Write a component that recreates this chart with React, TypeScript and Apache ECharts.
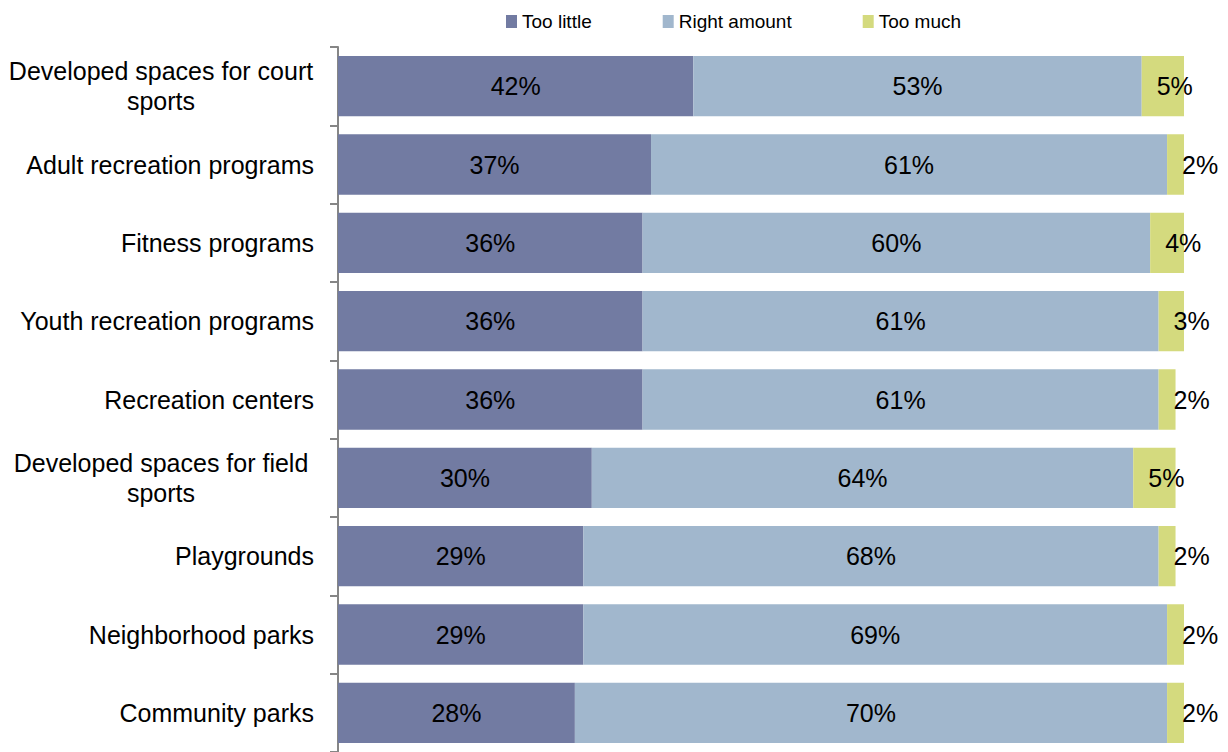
import React, { useEffect, useRef } from "react";
import * as echarts from "echarts";

const categories = [
  "Developed spaces for court sports",
  "Adult recreation programs",
  "Fitness programs",
  "Youth recreation programs",
  "Recreation centers",
  "Developed spaces for field sports",
  "Playgrounds",
  "Neighborhood parks",
  "Community parks",
];

const tooLittle = [42, 37, 36, 36, 36, 30, 29, 29, 28];
const rightAmount = [53, 61, 60, 61, 61, 64, 68, 69, 70];
const tooMuch = [5, 2, 4, 3, 2, 5, 2, 2, 2];

const seriesNames = ["Too little", "Right amount", "Too much"];
const colors = ["#727BA2", "#A1B7CD", "#D4DA7E"];

const FONT = "'Liberation Sans', Arial, sans-serif";

export default function App() {
  const ref = useRef<HTMLDivElement>(null);

  useEffect(() => {
    if (!ref.current) return;
    const chart = echarts.init(ref.current, null, { renderer: "svg" });

    const wrapped: Record<string, string> = {
      "Developed spaces for court sports": "{c|Developed spaces for court}\n{c|sports}",
      "Developed spaces for field sports": "{c|Developed spaces for field}\n{c|sports}",
    };

    const labelBase = {
      show: true,
      color: "#000",
      fontSize: 25,
      fontFamily: FONT,
      formatter: (p: any) => `${p.value}%`,
    };

    const data = [tooLittle, rightAmount, tooMuch];

    chart.setOption({
      animation: false,
      backgroundColor: "#fff",
      legend: {
        left: 506,
        top: 12,
        padding: 0,
        itemWidth: 11,
        itemHeight: 13,
        itemGap: 71,
        icon: "rect",
        textStyle: {
          fontSize: 19,
          color: "#000",
          fontFamily: FONT,
        },
        data: seriesNames,
      },
      grid: {
        left: 338,
        top: 47,
        width: 846,
        height: 708,
        containLabel: false,
      },
      xAxis: {
        type: "value",
        min: 0,
        max: 100,
        show: false,
      },
      yAxis: {
        type: "category",
        inverse: true,
        data: categories,
        axisLine: { show: true, lineStyle: { color: "#868686", width: 2 } },
        axisTick: { show: true, length: 8, lineStyle: { color: "#868686", width: 2 } },
        splitLine: { show: false },
        axisLabel: {
          margin: 24,
          color: "#000",
          fontSize: 25,
          fontFamily: FONT,
          lineHeight: 30,
          formatter: (v: string) => wrapped[v] || v,
          rich: {
            c: {
              width: 306,
              align: "center",
              fontSize: 25,
              fontFamily: FONT,
              color: "#000",
              lineHeight: 30,
            },
          },
        },
      },
      series: seriesNames.map((name, i) => ({
        name,
        type: "bar",
        stack: "total",
        barCategoryGap: "23%",
        itemStyle: { color: colors[i] },
        label:
          i === 2
            ? { ...labelBase, position: "insideLeft", distance: 15 }
            : { ...labelBase, position: "inside" },
        data: data[i],
      })),
    });

    return () => chart.dispose();
  }, []);

  return (
    <div
      ref={ref}
      style={{ position: "absolute", left: 0, top: 0, width: 1228, height: 752 }}
    />
  );
}
